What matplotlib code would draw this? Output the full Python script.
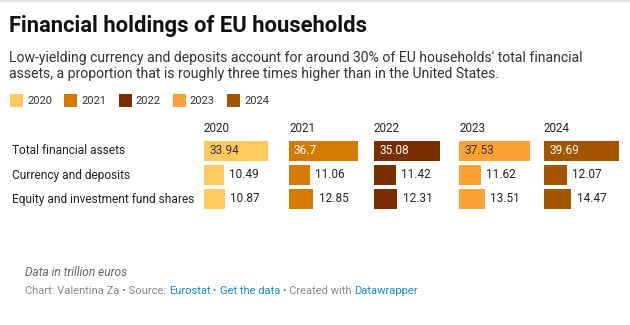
import matplotlib
matplotlib.use("Agg")
import matplotlib.pyplot as plt
from matplotlib.patches import Rectangle

plt.rcParams['font.family'] = ['Roboto', 'DejaVu Sans']

years = ["2020", "2021", "2022", "2023", "2024"]
categories = ["Total financial assets", "Currency and deposits", "Equity and investment fund shares"]
total_assets = [33.94, 36.7, 35.08, 37.53, 39.69]
currency_deposits = [10.49, 11.06, 11.42, 11.62, 12.07]
equity_funds = [10.87, 12.85, 12.31, 13.51, 14.47]
colors = ["#fec95f", "#d47a00", "#7a2f00", "#fea034", "#a35500"]
inside_text_colors = ["#333333", "#ffffff", "#ffffff", "#333333", "#ffffff"]

W, H = 630, 325
fig = plt.figure(figsize=(W / 100, H / 100), dpi=100)
fig.patch.set_facecolor("white")
fig.canvas.draw()
renderer = fig.canvas.get_renderer()

def fx(x):
    return x / W

def fy(y):
    return 1 - y / H

def fit(t, target):
    """Scale font size so the rendered text width is ~target pixels."""
    w = t.get_window_extent(renderer=renderer).width
    t.set_fontsize(t.get_fontsize() * target / w)
    return t.get_fontsize()

# top rule
fig.patches.append(Rectangle((0, fy(2)), 1, 2 / H, transform=fig.transFigure,
                             color="#e2e2e2", lw=0))

t = fig.text(fx(9), fy(32), "Financial holdings of EU households", fontsize=16,
             fontweight="bold", color="#111111", va="baseline", ha="left")
fit(t, 358)
t1 = fig.text(fx(9), fy(58), "Low-yielding currency and deposits account for around 30% of EU households' total financial",
              fontsize=10, color="#333333", va="center", ha="left")
sub_fs = fit(t1, 573)
fig.text(fx(9), fy(74), "assets, a proportion that is roughly three times higher than in the United States.",
         fontsize=sub_fs, color="#333333", va="center", ha="left")

# legend
for i, (yr, c) in enumerate(zip(years, colors)):
    x0 = 10 + i * 54.3
    fig.patches.append(Rectangle((fx(x0), fy(107)), 13 / W, 13 / H,
                                 transform=fig.transFigure, color=c, lw=0))
    t = fig.text(fx(x0 + 17), fy(100.5), yr, fontsize=9, color="#333333", va="center", ha="left")
    fit(t, 25)

# rows
row_centers = [151, 175, 199]
tl = fig.text(fx(12), fy(row_centers[2]), categories[2], fontsize=10, color="#222222",
              va="center", ha="left")
cat_fs = fit(tl, 182)
for cat, yc in zip(categories[:2], row_centers[:2]):
    fig.text(fx(12), fy(yc), cat, fontsize=cat_fs, color="#222222", va="center", ha="left")

vmax = max(total_assets)
col_w = 75
top, bottom = 139, 211
px_per_unit = col_w / vmax
probe = fig.text(0, 0, "33.94", fontsize=10)
val_fs = fit(probe, 29.5)
probe.remove()
probe = fig.text(0, 0, "2020", fontsize=10)
hdr_fs = fit(probe, 26)
probe.remove()

for i, yr in enumerate(years):
    left = 204 + i * 85
    ax = fig.add_axes([fx(left), fy(bottom), col_w / W, (bottom - top) / H])
    ax.set_xlim(0, vmax)
    ax.set_ylim(2.5, -0.5)
    ax.axis("off")
    vals = [total_assets[i], currency_deposits[i], equity_funds[i]]
    ax.barh(range(3), vals, height=20 / 24, color=colors[i], lw=0)
    fig.text(fx(left), fy(128.5), yr, fontsize=hdr_fs, color="#222222", va="center", ha="left")
    fig.text(fx(left + 5), fy(row_centers[0]), f"{total_assets[i]:g}", fontsize=val_fs,
             color=inside_text_colors[i], va="center", ha="left")
    for r in (1, 2):
        v = vals[r]
        fig.text(fx(left + v * px_per_unit + 5.5), fy(row_centers[r]), f"{v:g}", fontsize=val_fs,
                 color="#222222", va="center", ha="left")

# footer
t = fig.text(fx(25), fy(272), "Data in trillion euros", fontsize=9, style="italic",
             color="#666666", va="center", ha="left")
fit(t, 103)

gray = "#888888"
blue = "#1a8bc9"
pieces = [("Chart: Valentina Za • Source: ", gray), ("Eurostat", blue), (" • ", gray),
          ("Get the data", blue), (" • Created with ", gray), ("Datawrapper", blue)]
full = fig.text(0, 0, "".join(p for p, _ in pieces), fontsize=8.5)
foot_fs = fit(full, 387)
full.remove()
x = 25
for txt, c in pieces:
    t = fig.text(fx(x), fy(291), txt, fontsize=foot_fs, color=c, va="center", ha="left")
    x += t.get_window_extent(renderer=renderer).width

fig.savefig("out.png", dpi=100, facecolor="white")
